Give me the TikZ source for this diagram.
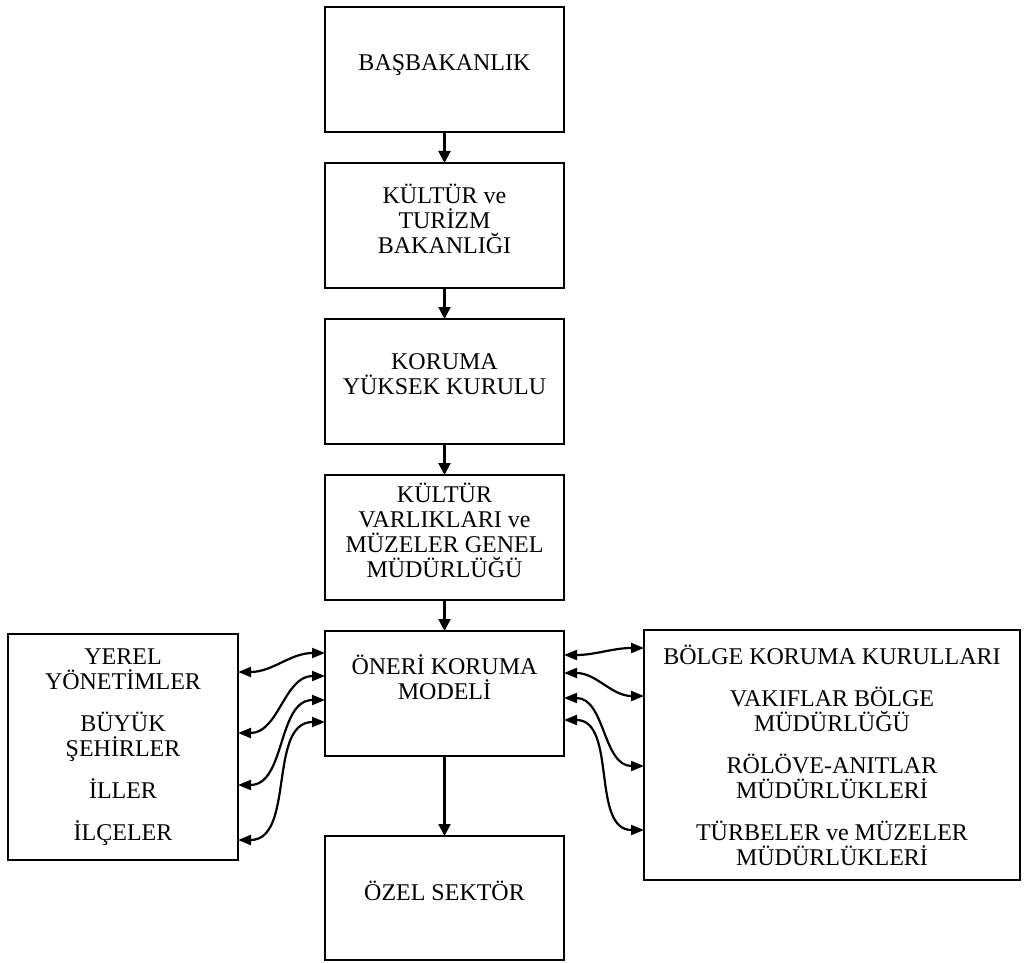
\documentclass[tikz,border=0pt]{standalone}
\usepackage{fontspec}
\setmainfont{Liberation Serif}
\usetikzlibrary{positioning,arrows.meta}

\begin{document}
\begin{tikzpicture}[
  node distance=15.5pt,
  box/.style={draw, line width=1.1pt, align=center, minimum width=119.5pt,
              minimum height=62.5pt, inner sep=0pt, outer sep=0pt, text depth=7pt,
              font=\fontsize{12}{12.5}\selectfont},
  side/.style={draw, line width=1.1pt, align=center, inner sep=0pt, outer sep=0pt,
              font=\fontsize{12}{12.5}\selectfont},
  arr/.style={-{Triangle[length=6pt,width=6pt]}, line width=1.1pt},
  dbl/.style={{Triangle[length=6.5pt,width=5pt]}-{Triangle[length=6.5pt,width=5pt]},
              line width=1.1pt}]
\useasboundingbox (0,0) rectangle (512pt,-481.5pt);
% main chain, top to bottom
\node[box] (basbak) at (222.25pt,-34.75pt) {BAŞBAKANLIK};
\node[box, below=of basbak] (kultur) {KÜLTÜR ve\\TURİZM\\BAKANLIĞI};
\node[box, below=of kultur] (yuksek) {KORUMA\\YÜKSEK KURULU};
\node[box, below=of yuksek] (muzeler) {KÜLTÜR\\VARLIKLARI ve\\MÜZELER GENEL\\MÜDÜRLÜĞÜ};
\node[box, below=of muzeler, text depth=16pt] (oneri) {ÖNERİ KORUMA\\MODELİ};
\node[box, below=40pt of oneri, minimum height=62pt] (ozel) {ÖZEL SEKTÖR};
\draw[arr] (basbak) -- (kultur);
\draw[arr] (kultur) -- (yuksek);
\draw[arr] (yuksek) -- (muzeler);
\draw[arr] (muzeler) -- (oneri);
\draw[arr] (oneri) -- (ozel);
% side boxes
\node[side, anchor=north west, minimum width=115pt, minimum height=113pt] (yerel)
  at (4pt,-317pt) {YEREL\\YÖNETİMLER\\[8.5pt]BÜYÜK\\ŞEHİRLER\\[8.5pt]İLLER\\[8.5pt]İLÇELER};
\node[side, anchor=north west, minimum width=188pt, minimum height=125pt] (bolge)
  at (322pt,-315pt) {BÖLGE KORUMA KURULLARI\\[8.5pt]VAKIFLAR BÖLGE\\MÜDÜRLÜĞÜ\\[8.5pt]%
  RÖLÖVE-ANITLAR\\MÜDÜRLÜKLERİ\\[8.5pt]TÜRBELER ve MÜZELER\\MÜDÜRLÜKLERİ};
% two-way links, left
\draw[dbl] ([yshift=-19pt]yerel.north east) to[out=0,in=180] ([yshift=-11pt]oneri.north west);
\draw[dbl] ([yshift=-49.5pt]yerel.north east) to[out=0,in=180] ([yshift=-22.5pt]oneri.north west);
\draw[dbl] ([yshift=-75.5pt]yerel.north east) to[out=0,in=180] ([yshift=-34.5pt]oneri.north west);
\draw[dbl] ([yshift=-103pt]yerel.north east) to[out=0,in=180] ([yshift=-45.5pt]oneri.north west);
% two-way links, right
\draw[dbl] ([yshift=-12pt]oneri.north east) to[out=0,in=180] ([yshift=-9pt]bolge.north west);
\draw[dbl] ([yshift=-21pt]oneri.north east) to[out=0,in=180] ([yshift=-33pt]bolge.north west);
\draw[dbl] ([yshift=-33.5pt]oneri.north east) to[out=0,in=180] ([yshift=-68pt]bolge.north west);
\draw[dbl] ([yshift=-44.5pt]oneri.north east) to[out=0,in=180] ([yshift=-100pt]bolge.north west);
\end{tikzpicture}
\end{document}
